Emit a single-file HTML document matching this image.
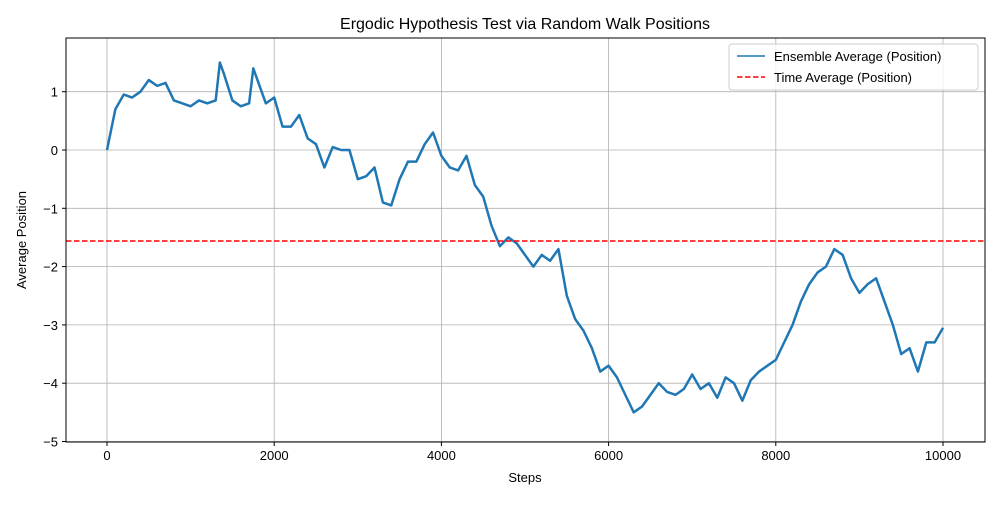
<!DOCTYPE html>
<html><head><meta charset="utf-8"><style>
body{margin:0;background:#fff}
svg text{font-family:"Liberation Sans","DejaVu Sans",sans-serif;fill:#000}
</style></head><body>
<svg id="chart" width="1000" height="500">
<text x="525" y="29" font-size="16" text-anchor="middle">Ergodic Hypothesis Test via Random Walk Positions</text>
<g id="grid"></g><g id="series"></g><g id="axes"></g>
<text x="525" y="482" font-size="13" text-anchor="middle">Steps</text>
<text x="26" y="240" font-size="13" text-anchor="middle" transform="rotate(-90 26 240)">Average Position</text>
<g>
<rect x="729" y="44" width="249" height="46" rx="3" fill="#fff" fill-opacity="0.8" stroke="#ccc"/>
<line x1="737" y1="56" x2="765" y2="56" stroke="#1f77b4" stroke-width="1.5"/>
<text x="774" y="61" font-size="13">Ensemble Average (Position)</text>
<line x1="737" y1="77" x2="765" y2="77" stroke="#ff0000" stroke-width="1.5" stroke-dasharray="5.5,2.5"/>
<text x="774" y="82" font-size="13">Time Average (Position)</text>
</g>
</svg>
<script>
const steps=[0,100,200,300,400,500,600,700,800,900,1000,1100,1200,1300,1350,1400,1500,1600,1700,1750,1800,1900,2000,2100,2200,2300,2400,2500,2600,2700,2800,2900,3000,3100,3200,3300,3400,3500,3600,3700,3800,3900,4000,4100,4200,4300,4400,4500,4600,4700,4800,4900,5000,5100,5200,5300,5400,5500,5600,5700,5800,5900,6000,6100,6200,6300,6400,6500,6600,6700,6800,6900,7000,7100,7200,7300,7400,7500,7600,7700,7800,7900,8000,8100,8200,8300,8400,8500,8600,8700,8800,8900,9000,9100,9200,9300,9400,9500,9600,9700,9800,9900,10000];
const ensemble=[0,0.7,0.95,0.9,1.0,1.2,1.1,1.15,0.85,0.8,0.75,0.85,0.8,0.85,1.5,1.3,0.85,0.75,0.8,1.4,1.2,0.8,0.9,0.4,0.4,0.6,0.2,0.1,-0.3,0.05,0.0,0.0,-0.5,-0.45,-0.3,-0.9,-0.95,-0.5,-0.2,-0.2,0.1,0.3,-0.1,-0.3,-0.35,-0.1,-0.6,-0.8,-1.3,-1.65,-1.5,-1.6,-1.8,-2.0,-1.8,-1.9,-1.7,-2.5,-2.9,-3.1,-3.4,-3.8,-3.7,-3.9,-4.2,-4.5,-4.4,-4.2,-4.0,-4.15,-4.2,-4.1,-3.85,-4.1,-4.0,-4.25,-3.9,-4.0,-4.3,-3.95,-3.8,-3.7,-3.6,-3.3,-3.0,-2.6,-2.3,-2.1,-2.0,-1.7,-1.8,-2.2,-2.45,-2.3,-2.2,-2.6,-3.0,-3.5,-3.4,-3.8,-3.3,-3.3,-3.05];
const timeAverage=[-1.56];
const xTicks=[0,2000,4000,6000,8000,10000];
const yTicks=[1,0,-1,-2,-3,-4,-5];
const NS='http://www.w3.org/2000/svg';
const L=66,R=985,T=38,B=442;
function xs(v){return 107+v*0.0836;}
function ys(v){return 150-v*58.3;}
function mk(p,t,a){const e=document.createElementNS(NS,t);for(const k in a)e.setAttribute(k,a[k]);p.appendChild(e);return e;}
const grid=document.getElementById('grid'),axes=document.getElementById('axes'),ser=document.getElementById('series');
xTicks.forEach(t=>{const x=xs(t);
 const g=mk(grid,'line',{x1:x,x2:x,y1:T,y2:B,stroke:'#b0b0b0','stroke-width':0.8});
 
 
 mk(axes,'line',{x1:x,x2:x,y1:B,y2:B+4,stroke:'#000'});
 const tx=mk(axes,'text',{x:x,y:B+18,'font-size':13,'text-anchor':'middle'});tx.textContent=t;
 
 });
yTicks.forEach(t=>{const y=ys(t);
 const g=mk(grid,'line',{x1:L,x2:R,y1:y,y2:y,stroke:'#b0b0b0','stroke-width':0.8});
 
 
 mk(axes,'line',{x1:L-4,x2:L,y1:y,y2:y,stroke:'#000'});
 const tx=mk(axes,'text',{x:L-8,y:y+5,'font-size':13,'text-anchor':'end'});tx.textContent=t<0?'\u2212'+(-t):t;
 
 });
const fr=mk(axes,'rect',{x:L,y:T,width:R-L,height:B-T,fill:'none',stroke:'#000','stroke-width':1});


const pl=mk(ser,'polyline',{points:steps.map((s,i)=>xs(s)+','+ys(ensemble[i])).join(' '),fill:'none',stroke:'#1f77b4','stroke-width':2.5,'stroke-linejoin':'round'});


const hl=mk(ser,'line',{x1:L,x2:R,y1:ys(timeAverage[0]),y2:ys(timeAverage[0]),stroke:'#ff0000','stroke-width':1.5,'stroke-dasharray':'5.5,2.5'});


</script>
</body></html>
